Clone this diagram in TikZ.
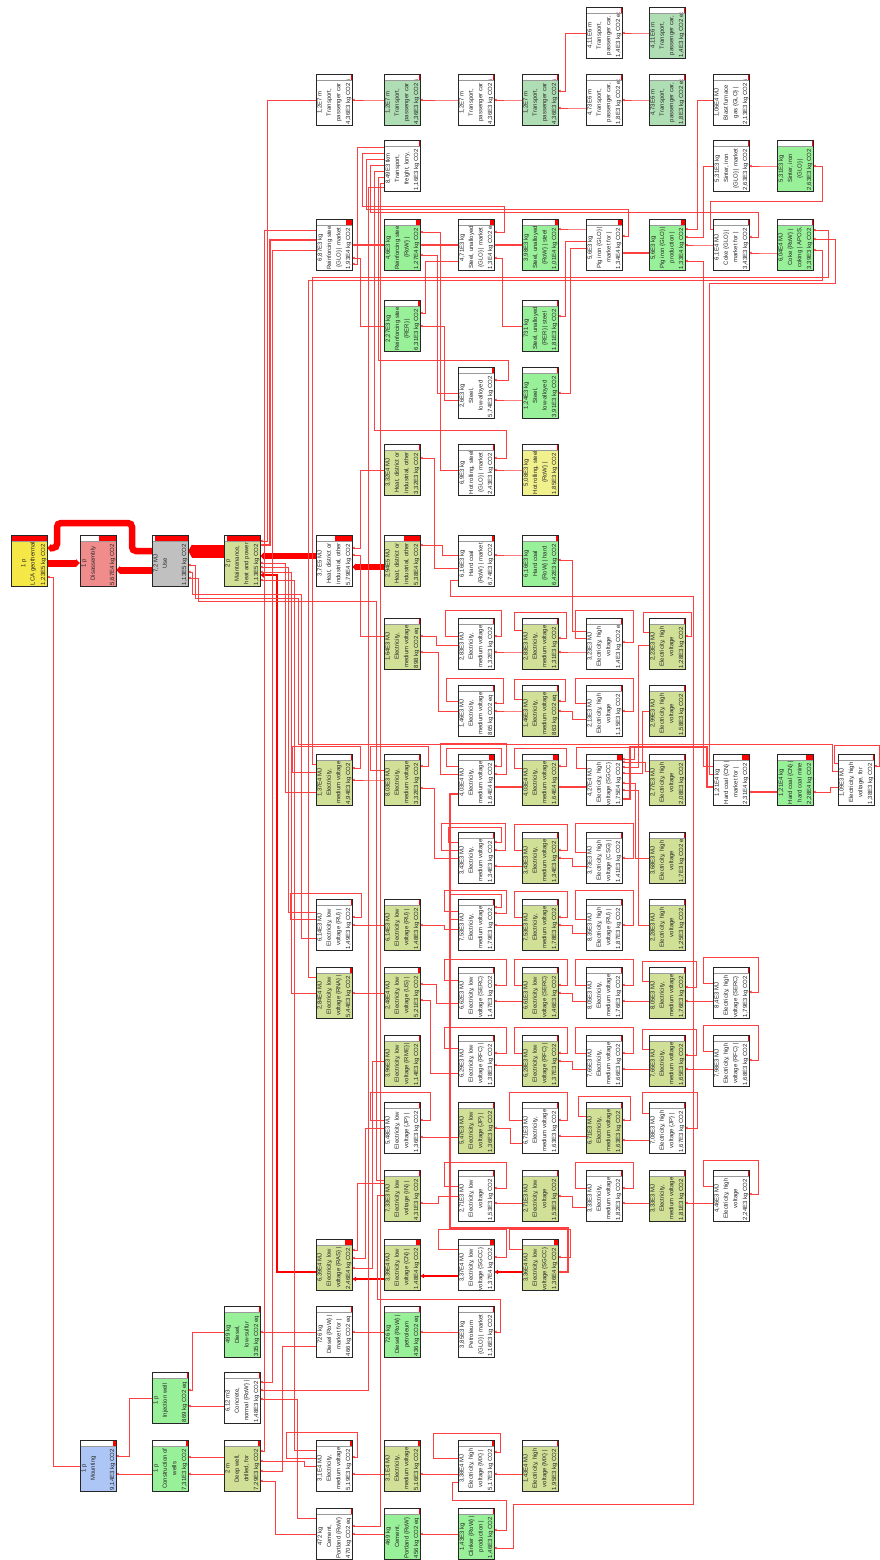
\documentclass[tikz,border=0pt]{standalone}
\usepackage{fontspec}
\setmainfont{Liberation Sans}
\usetikzlibrary{arrows.meta,calc}
\pgfdeclarelayer{back}
\pgfdeclarelayer{links}
\pgfsetlayers{back,links,main}
\definecolor{cG}{RGB}{152,240,152}
\definecolor{cT}{RGB}{176,222,180}
\definecolor{cO}{RGB}{208,224,150}
\definecolor{cY}{RGB}{240,240,140}
\definecolor{cL}{RGB}{245,232,70}
\definecolor{cP}{RGB}{240,140,140}
\definecolor{cGr}{RGB}{192,192,192}
\definecolor{cB}{RGB}{174,198,245}
\tikzset{
  boxn/.style={minimum width=36pt, minimum height=51pt, inner sep=0pt, outer sep=0pt, draw=none},
  txt/.style={rotate=90, inner sep=0pt, font=\fontsize{6}{9.4}\selectfont, align=center, text=black!85},
  lk/.style={draw=red!75, line width=0.8pt, -{Latex[length=2.6pt,width=2.8pt]}},
  lkT/.style={draw=red, -{Latex[length=4pt,width=9pt]}},
}
\newcommand\Bx[8][1.2]{%
 \node[boxn, fill=#5] (#2) at (#3+18,#4+25.5) {};
 \fill[white] (#3,#4) rectangle (#3+36,#4+6);
 \fill[red] (#3+36-36*#6,#4) rectangle (#3+36,#4+6);
 \begin{scope}
  \clip (#3,#4+6) rectangle (#3+36,#4+51);
  \node[txt, anchor=north] at (#3+#1,#4+28.5) {#7};
  \node[txt, anchor=base west] at (#3+34.2,#4+50.5) {#8};
 \end{scope}
 \draw[black!40, line width=0.4pt] (#3,#4+6) -- (#3+36,#4+6);
 \draw[black!85, line width=0.9pt] (#2.north west) rectangle (#2.south east);
}
\newcommand\Lk[6][]{\draw[lk,#1] ($(#4.north west)+(0,#5)$) -- ++(-#6,0) |- ($(#2.north east)+(0,#3)$);}
\newcommand\Lp[6]{\draw[lk] ($(#1.north west)+(0,#2)$) -- ++(-#5,0) |- ($(#1.north east)+(#6,-#4)$) |- ($(#1.north east)+(0,#3)$);}
\begin{document}
\begin{tikzpicture}[x=1pt,y=-1pt]
\useasboundingbox (0,0) rectangle (880,1560);
\begin{pgfonlayer}{back}\fill[white] (0,0) rectangle (880,1560);\end{pgfonlayer}
% row 7
\Bx{tA9}{586}{7}{white}{.035}{4,11E6 m\\Transport,\\passenger car,}{1,4E3 kg CO2 eq}
\Bx{tA10}{649}{7}{cT}{.035}{4,11E6 m\\Transport,\\passenger car,}{1,4E3 kg CO2 eq}
% row 74
\Bx{tB5}{316}{74}{white}{.035}{1,2E7 m\\Transport,\\passenger car}{4,36E3 kg CO2 eq}
\Bx{tB6}{384}{74}{cT}{.035}{1,2E7 m\\Transport,\\passenger car}{4,36E3 kg CO2 eq}
\Bx{tB7}{458}{74}{white}{.035}{1,2E7 m\\Transport,\\passenger car}{4,36E3 kg CO2 eq}
\Bx{tB8}{522}{74}{cT}{.035}{1,2E7 m\\Transport,\\passenger car}{4,36E3 kg CO2 eq}
\Bx{tB9}{586}{74}{white}{.035}{4,73E6 m\\Transport,\\passenger car,}{1,8E3 kg CO2 eq}
\Bx{tB10}{649}{74}{cT}{.035}{4,73E6 m\\Transport,\\passenger car,}{1,8E3 kg CO2 eq}
\Bx{bfg}{713}{74}{white}{.035}{1,06E4 MJ\\Blast furnace\\gas \{GLO\} |}{2,13E3 kg CO2 eq}
% row 140
\Bx{frt}{384}{140}{white}{.035}{8,49E3 tkm\\Transport,\\freight, lorry,}{1,16E3 kg CO2 eq}
\Bx{sin11}{713}{140}{white}{.035}{5,31E3 kg\\Sinter, iron\\\{GLO\} | market}{2,63E3 kg CO2 eq}
\Bx{sin12}{777}{140}{cG}{.035}{5,31E3 kg\\Sinter, iron\\\{GLO\} |}{2,63E3 kg CO2 eq}
% row 219
\Bx{rs5}{316}{219}{white}{.157}{6,87E3 kg\\Reinforcing steel\\\{GLO\} | market}{1,93E4 kg CO2 eq}
\Bx{rs6}{384}{219}{cG}{.103}{4,6E3 kg\\Reinforcing steel\\\{RoW\} |}{1,27E4 kg CO2 eq}
\Bx{su7}{458}{219}{white}{.106}{4,71E3 kg\\Steel, unalloyed\\\{GLO\} | market}{1,3E4 kg CO2 eq}
\Bx{su8}{522}{219}{cG}{.082}{3,98E3 kg\\Steel, unalloyed\\\{RoW\} | steel}{1,01E4 kg CO2 eq}
\Bx{pi9}{586}{219}{white}{.109}{5,6E3 kg\\Pig iron \{GLO\} |\\market for |}{1,34E4 kg CO2 eq}
\Bx{pi10}{649}{219}{cG}{.108}{5,6E3 kg\\Pig iron \{GLO\} |\\production |}{1,33E4 kg CO2 eq}
\Bx{ck11}{713}{219}{white}{.035}{6,1E4 MJ\\Coke \{GLO\} |\\market for |}{3,43E3 kg CO2 eq}
\Bx{ck12}{777}{219}{cG}{.035}{6,04E4 MJ\\Coke \{RoW\} |\\coking | APOS,}{3,39E3 kg CO2 eq}
% row 300
\Bx{rs6b}{384}{300}{cG}{.051}{2,27E3 kg\\Reinforcing steel\\\{RER\} |}{6,31E3 kg CO2 eq}
\Bx{su8b}{522}{300}{cG}{.035}{731 kg\\Steel, unalloyed\\\{RER\} | steel}{1,81E3 kg CO2 eq}
% row 367
\Bx{la7}{458}{367}{white}{.047}{2,6E3 kg\\Steel,\\low-alloyed}{5,74E3 kg CO2 eq}
\Bx{la8}{522}{367}{cG}{.035}{1,24E3 kg\\Steel,\\low-alloyed}{3,91E3 kg CO2 eq}
% row 444
\Bx{hd6}{384}{444}{cO}{.035}{3,32E4 MJ\\Heat, district or\\industrial, other}{3,32E3 kg CO2 eq}
\Bx{hr7}{458}{444}{white}{.035}{6,9E3 kg\\Hot rolling, steel\\\{GLO\} | market}{2,43E3 kg CO2 eq}
\Bx{hr8}{522}{444}{cY}{.035}{5,08E3 kg\\Hot rolling, steel\\\{RoW\} |}{1,85E3 kg CO2 eq}
% row 535
\Bx[10]{lca}{11}{535}{cL}{1}{1 p\\LCA geothermal}{1,23E5 kg CO2 eq}
\Bx{dis}{80}{535}{cP}{.48}{1 p\\Disassembly}{5,67E4 kg CO2 eq}
\Bx{use}{152}{535}{cGr}{.91}{7,2 MJ\\Use}{1,13E5 kg CO2 eq}
\Bx{mnt}{224}{535}{cO}{.91}{2 p\\Maintenance,\\heat and power}{1,13E5 kg CO2 eq}
\Bx{ht5}{316}{535}{white}{.47}{3,7E5 MJ\\Heat, district or\\industrial, other}{5,79E4 kg CO2 eq}
\Bx{ht6}{384}{535}{cO}{.44}{2,94E5 MJ\\Heat, district or\\industrial, other}{5,38E4 kg CO2 eq}
\Bx{hc7}{458}{535}{white}{.055}{6,16E3 kg\\Hard coal\\\{RoW\} | market}{6,74E3 kg CO2 eq}
\Bx{hc8}{522}{535}{cG}{.052}{6,16E3 kg\\Hard coal\\\{RoW\} | hard}{6,42E3 kg CO2 eq}
% row 618
\Bx{e8c6}{384}{618}{cO}{.035}{1,64E3 MJ\\Electricity,\\medium voltage}{898 kg CO2 eq}
\Bx{e8c7}{458}{618}{white}{.035}{2,83E3 MJ\\Electricity,\\medium voltage}{1,32E3 kg CO2 eq}
\Bx{e8c8}{522}{618}{cO}{.035}{2,83E3 MJ\\Electricity,\\medium voltage}{1,31E3 kg CO2 eq}
\Bx{e8c9}{586}{618}{white}{.035}{3,23E3 MJ\\Electricity, high\\voltage}{1,4E3 kg CO2 eq}
\Bx{e8c10}{649}{618}{cO}{.035}{2,23E3 MJ\\Electricity, high\\voltage}{1,28E3 kg CO2 eq}
% row 685
\Bx{e9c7}{458}{685}{white}{.035}{1,46E3 MJ\\Electricity,\\medium voltage}{865 kg CO2 eq}
\Bx{e9c8}{522}{685}{cO}{.035}{1,46E3 MJ\\Electricity,\\medium voltage}{863 kg CO2 eq}
\Bx{e9c9}{586}{685}{white}{.035}{2,13E3 MJ\\Electricity, high\\voltage}{1,15E3 kg CO2 eq}
\Bx{e9c10}{649}{685}{cO}{.035}{2,99E3 MJ\\Electricity, high\\voltage}{1,58E3 kg CO2 eq}
% row 754
\Bx{e10c5}{316}{754}{cO}{.04}{1,37E4 MJ\\Electricity,\\medium voltage}{4,94E3 kg CO2 eq}
\Bx{e10c6}{384}{754}{cO}{.035}{8,03E3 MJ\\Electricity,\\medium voltage}{3,32E3 kg CO2 eq}
\Bx{e10c7}{458}{754}{white}{.133}{4,03E4 MJ\\Electricity,\\medium voltage}{1,64E4 kg CO2 eq}
\Bx{e10c8}{522}{754}{cO}{.133}{4,03E4 MJ\\Electricity,\\medium voltage}{1,64E4 kg CO2 eq}
\Bx{e10c9}{586}{754}{white}{.142}{4,27E4 MJ\\Electricity, high\\voltage \{SGCC\} |}{1,75E4 kg CO2 eq}
\Bx{e10c10}{649}{754}{cO}{.035}{2,77E3 MJ\\Electricity, high\\voltage}{2,08E3 kg CO2 eq}
\Bx{hc11}{713}{754}{white}{.188}{1,21E4 kg\\Hard coal \{CN\} |\\market for |}{2,31E4 kg CO2 eq}
\Bx{hc12}{777}{754}{cG}{.185}{1,21E4 kg\\Hard coal \{CN\} |\\hard coal mine}{2,28E4 kg CO2 eq}
\Bx{e10c13}{838}{754}{white}{.035}{1,09E3 MJ\\Electricity, high\\voltage, for}{1,38E3 kg CO2 eq}
% row 832
\Bx{e11c7}{458}{832}{white}{.035}{3,43E3 MJ\\Electricity,\\medium voltage}{1,34E3 kg CO2 eq}
\Bx{e11c8}{522}{832}{cO}{.035}{3,43E3 MJ\\Electricity,\\medium voltage}{1,34E3 kg CO2 eq}
\Bx{e11c9}{586}{832}{white}{.035}{3,73E3 MJ\\Electricity, high\\voltage \{CSG\} |}{1,41E3 kg CO2 eq}
\Bx{e11c10}{649}{832}{cO}{.035}{3,68E3 MJ\\Electricity, high\\voltage}{1,7E3 kg CO2 eq}
% row 899
\Bx{e12c5}{316}{899}{white}{.035}{6,14E3 MJ\\Electricity, low\\voltage \{RU\} |}{1,49E3 kg CO2 eq}
\Bx{e12c6}{384}{899}{cO}{.035}{6,14E3 MJ\\Electricity, low\\voltage \{RU\} |}{1,48E3 kg CO2 eq}
\Bx{e12c7}{458}{899}{white}{.035}{7,53E3 MJ\\Electricity,\\medium voltage}{1,79E3 kg CO2 eq}
\Bx{e12c8}{522}{899}{cO}{.035}{7,53E3 MJ\\Electricity,\\medium voltage}{1,78E3 kg CO2 eq}
\Bx{e12c9}{586}{899}{white}{.035}{8,35E3 MJ\\Electricity, high\\voltage \{RU\} |}{1,87E3 kg CO2 eq}
\Bx{e12c10}{649}{899}{cO}{.035}{2,28E3 MJ\\Electricity, high\\voltage}{1,25E3 kg CO2 eq}
% row 967
\Bx{e13c5}{316}{967}{cO}{.044}{2,84E4 MJ\\Electricity, low\\voltage \{RNA\} |}{5,44E3 kg CO2 eq}
\Bx{e13c6}{384}{967}{cO}{.042}{2,48E4 MJ\\Electricity, low\\voltage \{US\} |}{5,21E3 kg CO2 eq}
\Bx{e13c7}{458}{967}{white}{.035}{6,62E3 MJ\\Electricity, low\\voltage \{SERC\} |}{1,47E3 kg CO2 eq}
\Bx{e13c8}{522}{967}{cO}{.035}{6,61E3 MJ\\Electricity, low\\voltage \{SERC\} |}{1,46E3 kg CO2 eq}
\Bx{e13c9}{586}{967}{white}{.035}{8,05E3 MJ\\Electricity,\\medium voltage}{1,76E3 kg CO2 eq}
\Bx{e13c10}{649}{967}{cO}{.035}{8,05E3 MJ\\Electricity,\\medium voltage}{1,76E3 kg CO2 eq}
\Bx{e13c11}{713}{967}{white}{.035}{8,4E3 MJ\\Electricity, high\\voltage \{SERC\} |}{1,79E3 kg CO2 eq}
% row 1035
\Bx{e14c6}{384}{1035}{cO}{.035}{3,96E3 MJ\\Electricity, low\\voltage \{RME\} |}{1,14E3 kg CO2 eq}
\Bx{e14c7}{458}{1035}{white}{.035}{6,29E3 MJ\\Electricity, low\\voltage \{RFC\} |}{1,38E3 kg CO2 eq}
\Bx{e14c8}{522}{1035}{cO}{.035}{6,28E3 MJ\\Electricity, low\\voltage \{RFC\} |}{1,37E3 kg CO2 eq}
\Bx{e14c9}{586}{1035}{white}{.035}{7,65E3 MJ\\Electricity,\\medium voltage}{1,66E3 kg CO2 eq}
\Bx{e14c10}{649}{1035}{cO}{.035}{7,65E3 MJ\\Electricity,\\medium voltage}{1,65E3 kg CO2 eq}
\Bx{e14c11}{713}{1035}{white}{.035}{7,98E3 MJ\\Electricity, high\\voltage \{RFC\} |}{1,68E3 kg CO2 eq}
% row 1102
\Bx{e15c6}{384}{1102}{white}{.035}{5,48E3 MJ\\Electricity, low\\voltage \{JP\} |}{1,36E3 kg CO2 eq}
\Bx{e15c7}{458}{1102}{cO}{.035}{5,47E3 MJ\\Electricity, low\\voltage \{JP\} |}{1,36E3 kg CO2 eq}
\Bx{e15c8}{522}{1102}{white}{.035}{6,71E3 MJ\\Electricity,\\medium voltage}{1,63E3 kg CO2 eq}
\Bx{e15c9}{586}{1102}{cO}{.035}{6,71E3 MJ\\Electricity,\\medium voltage}{1,63E3 kg CO2 eq}
\Bx{e15c10}{649}{1102}{white}{.035}{7,08E3 MJ\\Electricity, high\\voltage \{JP\} |}{1,67E3 kg CO2 eq}
% row 1170
\Bx{e16c6}{384}{1170}{cO}{.035}{7,33E3 MJ\\Electricity, low\\voltage \{IN\} |}{4,31E3 kg CO2 eq}
\Bx{e16c7}{458}{1170}{white}{.035}{2,71E3 MJ\\Electricity, low\\voltage}{1,53E3 kg CO2 eq}
\Bx{e16c8}{522}{1170}{cO}{.035}{2,71E3 MJ\\Electricity, low\\voltage}{1,53E3 kg CO2 eq}
\Bx{e16c9}{586}{1170}{white}{.035}{3,33E3 MJ\\Electricity,\\medium voltage}{1,82E3 kg CO2 eq}
\Bx{e16c10}{649}{1170}{cO}{.035}{3,33E3 MJ\\Electricity,\\medium voltage}{1,81E3 kg CO2 eq}
\Bx{e16c11}{713}{1170}{white}{.035}{4,46E3 MJ\\Electricity, high\\voltage}{2,24E3 kg CO2 eq}
% row 1239
\Bx{ras}{316}{1239}{cO}{.2}{6,39E4 MJ\\Electricity, low\\voltage \{RAS\} |}{2,46E4 kg CO2 eq}
\Bx{cn6}{384}{1239}{cO}{.12}{3,39E4 MJ\\Electricity, low\\voltage \{CN\} |}{1,48E4 kg CO2 eq}
\Bx{sg7}{458}{1239}{white}{.111}{3,37E4 MJ\\Electricity, low\\voltage \{SGCC\} |}{1,37E4 kg CO2 eq}
\Bx{sg8}{522}{1239}{cO}{.11}{3,36E4 MJ\\Electricity, low\\voltage \{SGCC\} |}{1,36E4 kg CO2 eq}
% row 1306
\Bx{dls}{224}{1306}{cG}{.035}{499 kg\\Diesel,\\low-sulfur}{335 kg CO2 eq}
\Bx{dm5}{316}{1306}{white}{.035}{726 kg\\Diesel \{RoW\} |\\market for |}{466 kg CO2 eq}
\Bx{dp6}{384}{1306}{cG}{.035}{726 kg\\Diesel \{RoW\} |\\petroleum}{436 kg CO2 eq}
\Bx{pet7}{458}{1306}{white}{.035}{3,85E3 kg\\Petroleum\\\{GLO\} | market}{1,16E3 kg CO2 eq}
% row 1372
\Bx{inj}{152}{1372}{cG}{.035}{1 p\\Injection well}{869 kg CO2 eq}
\Bx{conc}{224}{1372}{white}{.035}{6,12 m3\\Concrete,\\normal \{RoW\} |}{1,48E3 kg CO2 eq}
% row 1440
\Bx{mou}{80}{1440}{cB}{.074}{1 p\\Mounting}{9,14E3 kg CO2 eq}
\Bx{cow}{152}{1440}{cG}{.059}{1 p\\Construction of\\wells}{7,31E3 kg CO2 eq}
\Bx{dw}{224}{1440}{cO}{.059}{2 m\\Deep well,\\drilled, for}{7,29E3 kg CO2 eq}
\Bx{mv5}{316}{1440}{white}{.042}{3,1E4 MJ\\Electricity,\\medium voltage}{5,19E3 kg CO2 eq}
\Bx{mv6}{384}{1440}{cO}{.042}{3,1E4 MJ\\Electricity,\\medium voltage}{5,16E3 kg CO2 eq}
\Bx{mx7}{458}{1440}{white}{.042}{3,38E4 MJ\\Electricity, high\\voltage \{MX\} |}{5,17E3 kg CO2 eq}
\Bx{mx8}{522}{1440}{cO}{.035}{1,43E4 MJ\\Electricity, high\\voltage \{MX\} |}{1,95E3 kg CO2 eq}
% row 1508
\Bx{cem5}{316}{1508}{white}{.035}{472 kg\\Cement,\\Portland \{RoW\} |}{470 kg CO2 eq}
\Bx{cem6}{384}{1508}{cG}{.035}{469 kg\\Cement,\\Portland \{RoW\} |}{456 kg CO2 eq}
\Bx{clk7}{458}{1508}{cG}{.035}{1,43E3 kg\\Clinker \{RoW\} |\\production |}{1,46E3 kg CO2 eq}

\begin{pgfonlayer}{links}
% main flow
\draw[lkT, line width=6.5pt, rounded corners=4pt] ($(use.north west)+(0,16)$) -- (132,551) -- (132,523) -- (57,523) -- (57,548) -- ($(lca.north east)+(0,13)$);
\draw[lkT, line width=7pt] ($(lca.north east)+(0,28)$) -- ($(dis.north west)+(0,28)$);
\draw[lkT, line width=7pt] ($(use.north west)+(0,35)$) -- ($(dis.north east)+(0,35)$);
\draw[lkT, line width=13pt, -{Latex[length=4pt,width=15pt]}] ($(mnt.north west)+(0,16)$) -- ($(use.north east)+(0,16)$);
\draw[lkT, line width=6pt, -{Latex[length=4pt,width=8pt]}] ($(ht5.north west)+(0,21)$) -- ($(mnt.north east)+(0,21)$);
\draw[lkT, line width=6.5pt, -{Latex[length=4pt,width=8pt]}] ($(ht6.north west)+(0,32)$) -- ($(ht5.north east)+(0,32)$);
\draw[lkT, line width=2.8pt, -{Latex[length=4pt,width=6pt]}] ($(ras.north west)+(0,33)$) -- ++(-39,0) |- ($(mnt.north east)+(0,40)$);
\draw[lkT, line width=1.8pt, -{Latex[length=4pt,width=5pt]}] ($(cn6.north west)+(0,40)$) -- ($(ras.north east)+(0,40)$);
\draw[lkT, line width=1.7pt, -{Latex[length=4pt,width=5pt]}] ($(sg7.north west)+(0,37)$) -- ($(cn6.north east)+(0,37)$);
\draw[lkT, line width=1.7pt, -{Latex[length=4pt,width=5pt]}] ($(sg8.north west)+(0,33)$) -- ($(sg7.north east)+(0,33)$);
% maintenance
\Lk{mnt}{6}{tB5}{26}{49}
\Lk[line width=2pt]{mnt}{10}{rs5}{21}{46.5}
\Lk{mnt}{28}{e10c5}{38}{31}
\Lk{mnt}{32}{e12c5}{13}{28}
\Lk{mnt}{37}{e13c5}{26}{25}
\Lk{mnt}{45}{mv5}{10}{22}
% deep well, mounting
\Lk{dw}{11}{rs5}{11}{52}
\Lk{conc}{10}{rs5}{31}{44}
\Lk{dw}{41}{cem5}{26}{41}
\Lk{dw}{31}{dm5}{40}{34}
\Lk{dw}{21}{mv5}{26}{12}
\Lk{conc}{27}{cem5}{10}{19}
\draw[lk] ($(dm5.north west)+(0,26)$) -- ($(dls.north east)+(0,26)$);
\Lk{lca}{42}{mou}{26}{27}
\draw[lk] ($(cow.north west)+(0,34)$) -- ($(mou.north east)+(0,34)$);
\Lk{mou}{16}{inj}{26}{23}
\Lk{inj}{18}{dls}{26}{32}
\draw[lk] ($(conc.north west)+(0,34)$) -- ($(inj.north east)+(0,34)$);
\draw[lk] ($(dw.north west)+(0,17)$) -- ($(cow.north east)+(0,17)$);
\draw[lk] ($(dw.north west)+(0,34)$) -- ($(cow.north east)+(0,34)$);
% use
\draw[lk] ($(e10c13.north west)+(0,17)$) -- ++(-6,0) |- (298,744) |- (195,598) |- ($(use.north east)+(0,30)$);
\draw[lk] ($(e12c5.north west)+(0,39)$) -- ++(-15,0) |- (192,594) |- ($(use.north east)+(0,37)$);
\draw[lk] ($(e16c6.north west)+(0,10)$) -- ++(-8,0) |- (198,601) |- ($(use.north east)+(0,43)$);
% transport
\Lk{tB5}{26}{tB6}{26}{10}
\Lk{tB6}{26}{tB7}{26}{10}
\Lk{tB7}{26}{tB8}{26}{10}
\Lk{tB8}{17}{tA9}{26}{21}
\Lk{tB8}{34}{tB9}{34}{10}
\Lk{tA9}{26}{tA10}{26}{10}
\Lk{tB9}{26}{tB10}{26}{10}
% iron and steel
\Lk{pi10}{10}{bfg}{26}{16}
\Lk{pi10}{18}{sin11}{26}{10}
\Lk{sin11}{26}{sin12}{26}{10}
\draw[lk] ($(ck11.north west)+(0,10)$) -- ++(-3,0) |- (822,201) |- ($(sin12.north east)+(0,26)$);
\Lk{ck11}{34}{ck12}{34}{10}
\Lk{pi10}{26}{ck11}{26}{14}
\Lk[line width=1.4pt]{pi9}{34}{pi10}{34}{10}
\Lk{su8}{10}{pi9}{10}{10}
\Lk{su8b}{16}{pi9}{22}{21}
\Lk{la8}{26}{pi9}{29}{16}
\Lk[line width=1.4pt]{rs5}{26}{rs6}{26}{10}
\Lk{rs5}{39}{rs6b}{26}{24}
\Lk[line width=1.2pt]{rs6}{26}{su7}{26}{24}
\Lk{rs6}{13}{hr7}{26}{18}
\Lk{rs6}{36}{la7}{26}{21}
\Lk{rs6b}{13}{su7}{42}{33}
\Lk{rs6b}{26}{la7}{33}{14}
\Lk[line width=1.2pt]{su7}{26}{su8}{26}{10}
\Lk{su7}{39}{su8b}{26}{20}
\Lk{la7}{33}{la8}{33}{10}
\Lk{hr7}{26}{hr8}{26}{10}
% freight
\Lk{rs5}{45}{frt}{7}{27}
\draw[lk] ($(frt.north west)+(0,13)$) -- ++(-22,0) |- (504,206) |- ($(su7.north east)+(0,13)$);
\draw[lk] ($(frt.north west)+(0,19)$) -- ++(-18,0) |- (628,209) |- ($(pi9.north east)+(0,17)$);
\draw[lk] ($(frt.north west)+(0,25)$) -- ++(-14,0) |- (758,212) |- ($(ck11.north east)+(0,18)$);
\draw[lk] ($(frt.north west)+(0,31)$) -- ++(-10,0) |- (506,430) |- ($(hr7.north east)+(0,14)$);
\draw[lk] ($(frt.north west)+(0,37)$) -- ++(-6,0) |- (508,360) |- ($(la7.north east)+(0,13)$);
\Lk{cem5}{18}{frt}{43}{4}
\Lk{conc}{18}{frt}{47}{16}
% heat and coal
\Lk{ht5}{13}{hd6}{26}{24}
\Lk{ht5}{20}{e8c6}{18}{24}
\Lk{ht6}{10}{hc7}{20}{16}
\Lk{hd6}{14}{hc7}{33}{24}
\Lk[line width=0.9pt]{hc7}{20}{hc8}{20}{10}
\Lk{hc8}{25}{e8c9}{13}{14}
\draw[lk] ($(hc7.north west)+(0,45)$) -- ++(-8,0) |- (693,596) |- (513,1504) |- ($(clk7.north east)+(0,40)$);
% electricity
\Lk{e8c6}{18}{e8c7}{27}{22}
\Lk{e8c7}{34}{e8c8}{34}{10}
\Lk{e8c8}{34}{e8c9}{34}{10}
\Lk{e10c9}{13}{e8c10}{27}{11}
\Lk{e10c9}{19}{e9c10}{26}{7}
\Lk{e9c7}{26}{e9c8}{26}{10}
\Lk{e9c8}{26}{e9c9}{34}{14}
\Lk{e8c6}{34}{e9c7}{26}{20}
\Lk{e10c5}{26}{e10c6}{26}{10}
\Lk{e10c6}{34}{e11c7}{26}{24}
\Lk[line width=1.9pt]{e10c7}{33}{e10c8}{33}{10}
\Lk[line width=1.9pt]{e10c8}{33}{e10c9}{33}{10}
\Lk{e10c9}{8}{e10c10}{17}{4}
\Lk{e10c9}{36}{e12c10}{26}{11}
\Lk{e10c9}{29}{e11c10}{26}{14}
\draw[lk, line width=2.2pt] ($(hc11.north west)+(0,33)$) -- ++(-6,0) |- (630,747) |- ($(e10c9.north east)+(0,45)$);
\Lk[line width=2.2pt]{hc11}{38}{hc12}{38}{10}
\Lk{hc12}{38}{e10c13}{33}{8}
\draw[lk] ($(hc11.north west)+(0,12)$) -- ++(-10,0) |- ($(pi10.north east)+(0,42)$);
\draw[lk] ($(hc11.north west)+(0,20)$) -- ++(-4,0) |- (835,283) |- ($(ck12.north east)+(0,20)$);
\draw[lk] ($(e10c5.north west)+(0,10)$) -- ++(-4,0) |- (828,277) |- ($(ck12.north east)+(0,11)$);
\draw[lk] ($(e13c5.north west)+(0,10)$) -- ++(-8,0) |- (822,280) |- ($(ck12.north east)+(0,31)$);
\Lk{e11c7}{34}{e11c8}{34}{10}
\Lk{e11c8}{26}{e11c9}{34}{14}
\Lk{e12c5}{26}{e12c6}{26}{10}
\Lk{e12c6}{26}{e12c7}{30}{14}
\Lk{e12c7}{26}{e12c8}{26}{10}
\Lk{e12c8}{26}{e12c9}{34}{14}
\Lk{e13c5}{26}{e13c6}{26}{10}
\Lk{e13c6}{17}{e13c7}{36}{22}
\Lk{e13c6}{33}{e14c7}{38}{28}
\Lk{e13c7}{34}{e13c8}{34}{10}
\Lk{e13c8}{26}{e13c9}{34}{14}
\Lk{e13c9}{34}{e13c10}{34}{10}
\Lk{e13c10}{34}{e13c11}{34}{10}
\Lk{e14c7}{30}{e14c8}{30}{10}
\Lk{e14c8}{26}{e14c9}{34}{14}
\Lk{e14c9}{34}{e14c10}{34}{10}
\Lk{e14c10}{34}{e14c11}{34}{10}
\Lk{ras}{29}{e14c6}{26}{12}
\Lk{e15c6}{35}{e15c7}{35}{10}
\Lk{e15c7}{26}{e15c8}{41}{12}
\Lk{e15c8}{34}{e15c9}{34}{10}
\Lk{e15c9}{38}{e15c10}{38}{10}
\Lk{ras}{19}{e15c6}{26}{19}
\Lk{e16c6}{33}{e16c7}{26}{20}
\Lk{e16c7}{33}{e16c8}{33}{10}
\Lk{e16c8}{26}{e16c9}{37}{14}
\Lk{e16c9}{33}{e16c10}{33}{10}
\Lk{e16c10}{33}{e16c11}{33}{10}
\Lk{ras}{11}{e16c6}{13}{27}
\draw[lk] ($(e16c6.north west)+(0,25)$) -- ++(-7,0) |- (500,1299) |- ($(pet7.north east)+(0,26)$);
\draw[lk, line width=1.9pt] ($(e10c7.north west)+(0,40)$) -- ++(-8,0) |- (568,1228) |- ($(sg8.north east)+(0,33)$);
% diesel, cement, MX
\Lk{dm5}{26}{dp6}{26}{10}
\Lk{dp6}{26}{pet7}{26}{10}
\Lk{cem5}{26}{cem6}{26}{10}
\Lk{cem6}{26}{clk7}{26}{20}
\Lk{mv5}{34}{mv6}{34}{10}
\Lk{mv6}{34}{mx7}{34}{10}
\Lk{mx7}{34}{mx8}{34}{10}
\draw[lk] ($(mx7.north west)+(0,42)$) -- ++(-6,0) |- (506,1500) |- ($(clk7.north east)+(0,22)$);
% self loops
\Lp{e8c7}{18}{18}{8}{13}{7}
\Lp{e8c8}{12}{20}{6}{8}{8}
\Lp{e8c9}{20}{24}{8}{11}{11}
\Lp{e8c10}{14}{18}{6}{6}{6}
\Lp{e9c7}{16}{18}{7}{12}{9}
\Lp{e9c8}{14}{16}{6}{8}{7}
\Lp{e9c9}{18}{26}{7}{11}{11}
\Lp{e10c5}{18}{14}{8}{24}{8}
\Lp{e10c6}{16}{12}{8}{14}{8}
\Lp{e10c7}{12}{12}{6}{12}{7}
\Lp{e10c7}{20}{20}{11}{18}{12}
\Lp{e10c8}{14}{12}{6}{8}{8}
\Lp{e10c9}{14}{5}{7}{10}{12}
\Lp{e10c13}{9}{12}{9}{4}{5}
\Lp{e11c7}{18}{18}{9}{17}{11}
\Lp{e11c7}{10}{10}{5}{10}{7}
\Lp{e11c8}{18}{18}{8}{8}{9}
\Lp{e11c9}{20}{26}{9}{11}{11}
\Lp{e12c5}{20}{18}{6}{26}{9}
\Lp{e12c7}{12}{14}{9}{14}{12}
\Lp{e12c7}{20}{8}{5}{8}{7}
\Lp{e12c8}{18}{18}{8}{8}{9}
\Lp{e12c9}{20}{26}{9}{11}{11}
\Lp{e13c7}{13}{18}{8}{14}{12}
\Lp{e13c8}{18}{18}{8}{8}{9}
\Lp{e13c9}{18}{18}{8}{11}{11}
\Lp{e13c10}{14}{20}{6}{7}{11}
\Lp{e13c11}{16}{25}{10}{10}{9}
\Lp{e14c7}{13}{18}{8}{14}{12}
\Lp{e14c8}{18}{18}{8}{8}{9}
\Lp{e14c9}{18}{18}{8}{11}{11}
\Lp{e14c10}{14}{20}{6}{7}{11}
\Lp{e14c11}{16}{25}{10}{10}{9}
\Lp{e15c6}{18}{18}{10}{14}{10}
\Lp{e15c8}{18}{18}{10}{13}{9}
\Lp{e15c9}{14}{18}{6}{8}{8}
\Lp{e15c10}{11}{26}{10}{7}{12}
\Lp{e16c7}{16}{18}{8}{14}{12}
\Lp{e16c9}{18}{18}{8}{11}{11}
\Lp{e16c11}{16}{24}{10}{10}{9}
\Lp{sg7}{10}{18}{10}{20}{12}
\Lp{sg8}{10}{18}{10}{13}{12}
\Lp{mv5}{18}{17}{8}{30}{5}
\Lp{mx7}{18}{12}{7}{25}{6}
\end{pgfonlayer}
\end{tikzpicture}
\end{document}
